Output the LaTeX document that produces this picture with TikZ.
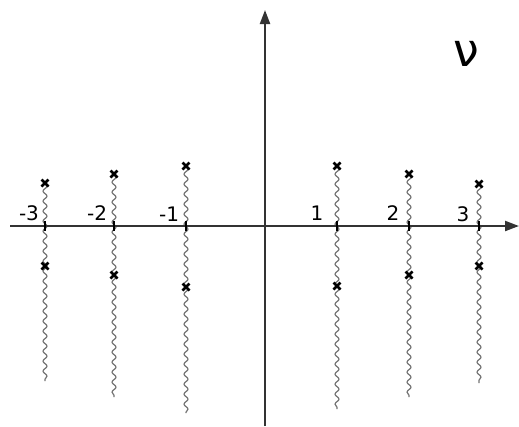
\documentclass[tikz,border=0pt]{standalone}
\usepackage{fontspec}
\setmainfont{DejaVu Sans}
\usetikzlibrary{decorations.pathmorphing,arrows.meta}
\begin{document}
\begin{tikzpicture}[x=1pt,y=-1pt,
  axis/.style={line width=2.2pt,draw=black!80,-{Triangle[length=14pt,width=10pt]}},
  tickmark/.style={line width=2.6pt,black},
  wave/.style={draw=black!55,line width=1.2pt,decorate,decoration={snake,amplitude=2pt,segment length=10pt}},
  crossmark/.style={line width=2.5pt,black},
  lbl/.style={font=\fontsize{20}{20}\selectfont,inner sep=0pt}]
\useasboundingbox (0,0) rectangle (519,426);
\coordinate (O) at (265,226);
\coordinate (xl) at (10,226);
\coordinate (xr) at (519,226);
\coordinate (yb) at (265,426);
\coordinate (yt) at (265,10);
% wavy lines
\foreach \n/\x/\u/\l/\b in {m3/45/183/266/381, m2/114/174/275/397, m1/186/166/287/413, p1/337/166/286/409, p2/409/174/275/397, p3/479/184/266/383}{
  \coordinate (u\n) at (\x,\u);
  \coordinate (l\n) at (\x,\l);
  \coordinate (b\n) at (\x,\b);
  \coordinate (t\n) at (\x,226);
  \draw[wave] (u\n) -- (b\n);
}
\draw[axis] (xl) -- (xr);
\draw[axis] (yb) -- (yt);
\foreach \n in {m3,m2,m1,p1,p2,p3}{
  \draw[tickmark] ([yshift=-5pt]t\n) -- ([yshift=5pt]t\n);
  \foreach \c in {u\n,l\n}{
    \draw[crossmark] ([shift={(-3.5,-3.5)}]\c) -- ([shift={(3.5,3.5)}]\c);
    \draw[crossmark] ([shift={(-3.5,3.5)}]\c) -- ([shift={(3.5,-3.5)}]\c);
  }
}
\node[lbl] (lm3) at (29,213) {-3};
\node[lbl] (lm2) at (97,213) {-2};
\node[lbl] (lm1) at (169,214) {-1};
\node[lbl] (lp1) at (317,213) {1};
\node[lbl] (lp2) at (393,213) {2};
\node[lbl] (lp3) at (463,214) {3};
\node[font=\fontsize{46}{46}\selectfont,inner sep=0pt] (nu) at (466,54) {ν};
\end{tikzpicture}
\end{document}
